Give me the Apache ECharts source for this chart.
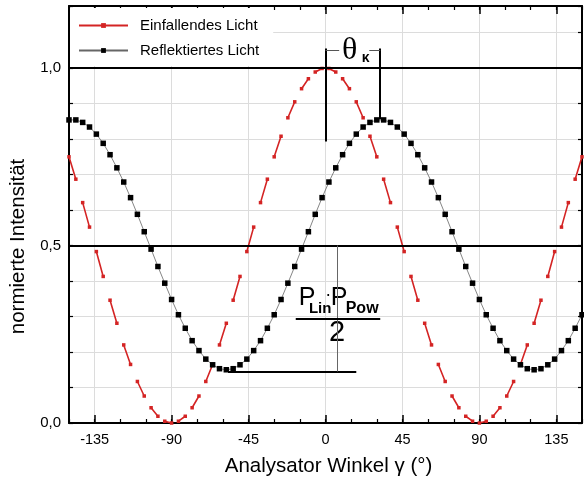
<!DOCTYPE html>
<html>
<head>
<meta charset="utf-8">
<script src="https://cdn.jsdelivr.net/npm/echarts@6/dist/echarts.min.js"></script>
<style>
  html, body { margin: 0; padding: 0; background: #fff; }
  #chart { width: 584px; height: 479px; }
</style>
</head>
<body>
<div id="chart"></div>
<script>
// Analysator angle (deg), one sample every 4 degrees
const angles = [-150,-146,-142,-138,-134,-130,-126,-122,-118,-114,-110,-106,-102,-98,-94,-90,-86,-82,-78,-74,
  -70,-66,-62,-58,-54,-50,-46,-42,-38,-34,-30,-26,-22,-18,-14,-10,-6,-2,
  2,6,10,14,18,22,26,30,34,38,42,46,50,54,58,62,66,70,74,78,82,86,90,94,98,102,106,110,114,118,122,126,130,134,138,142,146,150];

// Einfallendes Licht (normalised)
const incident = [0.75,0.687,0.621,0.552,0.483,0.413,0.346,0.281,0.220,0.165,0.117,0.076,0.043,0.019,0.005,
  0,
  0.005,0.019,0.043,0.076,0.117,0.165,0.220,0.281,0.346,0.413,0.483,0.552,0.621,0.687,0.75,0.808,0.860,0.905,0.942,0.970,0.989,0.999,
  0.999,0.989,0.970,0.942,0.905,0.860,0.808,0.75,0.687,0.621,0.552,0.483,0.413,0.346,0.281,0.220,0.165,0.117,0.076,0.043,0.019,0.005,
  0,
  0.005,0.019,0.043,0.076,0.117,0.165,0.220,0.281,0.346,0.413,0.483,0.552,0.621,0.687,0.75];

// Reflektiertes Licht (normalised)
const reflected = [0.854,0.854,0.847,0.834,0.814,0.788,0.756,0.719,0.679,0.635,0.588,0.539,0.490,0.441,0.394,0.348,0.305,0.267,0.232,0.204,
  0.180,0.164,0.153,0.150,0.153,0.164,0.180,0.204,0.232,0.267,0.305,0.348,0.394,0.441,0.490,0.539,0.588,0.635,
  0.679,0.719,0.756,0.788,0.814,0.834,0.847,0.854,0.854,0.847,0.834,0.814,0.788,0.756,0.719,0.679,0.635,0.588,0.539,0.490,
  0.441,0.394,0.348,0.305,0.267,0.232,0.204,0.180,0.164,0.153,0.150,0.153,0.164,0.180,0.204,0.232,0.267,0.305];

const xMajor = [-135, -90, -45, 0, 45, 90, 135];
const yMajor = [0, 0.5, 1];

// annotation guide lines in data space
const thetaK = 32;       // peak shift of reflected light
const topBracket = 1.055;
const minLevel = 0.145;
const fracX = 6.8;

const font = "'Liberation Sans', Arial, sans-serif";
const red = '#d42424';

// incident light is drawn as pairs of connected points
const incidentData = [];
angles.forEach((a, i) => {
  incidentData.push([a, incident[i]]);
  if (i % 2 === 1) incidentData.push([a, null]);
});
const reflectedData = angles.map((a, i) => [a, reflected[i]]);

const chart = echarts.init(document.getElementById('chart'), null, { renderer: 'canvas' });

function xAx(pos, major, extra) {
  return Object.assign({
    type: 'value', position: pos, min: -150, max: 150,
    interval: 15,
    axisLine: { show: !major, onZero: false, lineStyle: { color: '#000', width: 2 } },
    axisTick: major
      ? { show: true, inside: true, length: 8, customValues: xMajor, lineStyle: { color: '#000', width: 1.5 } }
      : { show: true, inside: true, length: 4, lineStyle: { color: '#000', width: 1.2 } },
    axisLabel: { show: false },
    splitLine: { show: false }
  }, extra || {});
}
function yAx(pos, major, extra) {
  return Object.assign({
    type: 'value', position: pos, min: 0, max: 1.175,
    interval: major ? 0.5 : 0.1,
    axisLine: { show: !major, onZero: false, lineStyle: { color: '#000', width: 2 } },
    axisTick: { show: true, inside: true, length: major ? 8 : 4, lineStyle: { color: '#000', width: major ? 1.5 : 1.2 } },
    axisLabel: { show: false },
    splitLine: { show: false }
  }, extra || {});
}

const option = {
  animation: false,
  backgroundColor: '#fff',
  grid: { left: 69, right: 2, top: 6, bottom: 56, outerBoundsMode: 'none', containLabel: false },
  legend: {
    left: 70, top: 8,
    orient: 'vertical',
    backgroundColor: '#fff',
    padding: [10, 14, 8, 8],
    itemWidth: 49, itemHeight: 6, itemGap: 10,
    textStyle: { fontFamily: font, fontSize: 15, color: '#000', padding: [0, 0, 0, 7] },
    data: ['Einfallendes Licht', 'Reflektiertes Licht']
  },
  xAxis: [
    xAx('bottom', false),
    xAx('bottom', true, {
      name: 'Analysator Winkel γ (°)', nameLocation: 'middle', nameGap: 33,
      nameTextStyle: { fontFamily: font, fontSize: 20.5, color: '#000', padding: [0, 0, 0, 6] },
      axisLabel: { show: true, customValues: xMajor, margin: 9, fontFamily: font, fontSize: 14.5, color: '#000' },
      splitLine: { show: true, lineStyle: { color: '#dcdcdc', width: 1 } }
    }),
    xAx('top', false),
    xAx('top', true)
  ],
  yAxis: [
    yAx('left', false, {
      name: 'normierte Intensität', nameLocation: 'middle', nameGap: 39,
      nameTextStyle: { fontFamily: font, fontSize: 20.5, color: '#000', padding: [0, 64, 0, 0] },
      axisLabel: {
        show: true, margin: 8, fontFamily: font, fontSize: 15, color: '#000',
        formatter: v => yMajor.some(m => Math.abs(m - v) < 1e-6) ? v.toFixed(1).replace('.', ',') : ''
      },
      splitLine: { show: true, lineStyle: { color: '#dcdcdc', width: 1 } }
    }),
    yAx('left', true),
    yAx('right', false),
    yAx('right', true)
  ],
  series: [
    {
      name: 'Einfallendes Licht', type: 'line',
      xAxisIndex: 0, yAxisIndex: 0,
      data: incidentData, connectNulls: false,
      symbol: 'rect', symbolSize: 3.5, showSymbol: true,
      itemStyle: { color: red },
      lineStyle: { color: red, width: 1.6 },
      z: 3
    },
    {
      name: 'Reflektiertes Licht', type: 'line',
      xAxisIndex: 0, yAxisIndex: 0,
      data: reflectedData,
      symbol: 'rect', symbolSize: 5.5, showSymbol: true,
      itemStyle: { color: '#000' },
      lineStyle: { color: '#666', width: 0.8 },
      z: 4,
      markLine: {
        silent: true, symbol: 'none', label: { show: false },
        lineStyle: { color: '#000', width: 2, type: 'solid' },
        data: [
          { yAxis: 1 },
          { yAxis: 0.5 },
          [{ coord: [0, topBracket] }, { coord: [0, 0.793] }],
          [{ coord: [thetaK, topBracket] }, { coord: [thetaK, 0.856] }],
          [{ coord: [0, 1.051], lineStyle: { color: '#555', width: 1 } }, { coord: [8, 1.051] }],
          [{ coord: [25.6, 1.051], lineStyle: { color: '#555', width: 1 } }, { coord: [thetaK, 1.051] }],
          [{ coord: [-57, minLevel] }, { coord: [18, minLevel] }],
          [{ coord: [fracX, 0.5], lineStyle: { color: '#666', width: 1 } }, { coord: [fracX, minLevel] }],
          [{ coord: [-17.4, 0.2935] }, { coord: [thetaK, 0.2935] }]
        ]
      }
    }
  ]
};

chart.setOption(option);

// text annotations placed from data coordinates
const pK = chart.convertToPixel({ xAxisIndex: 0, yAxisIndex: 0 }, [16.5, 1.051]);
const pF = chart.convertToPixel({ xAxisIndex: 0, yAxisIndex: 0 }, [fracX, 0.2935]);
const serif = "'Liberation Serif', 'DejaVu Serif', serif";
const txt = (x, y, text, f) => ({ type: 'text', x, y, style: { text, font: f, fill: '#000', textAlign: 'center', textVerticalAlign: 'middle' } });
chart.setOption({
  graphic: [
    txt(pK[0] - 4, pK[1] + 1, 'θ', '32px ' + serif),
    txt(pK[0] + 12, pK[1] + 8, 'κ', 'bold 14px ' + font),
    txt(pF[0] - 30, pF[1] - 21, 'P', '25px ' + font),
    txt(pF[0] - 17, pF[1] - 10, 'Lin', 'bold 15px ' + font),
    txt(pF[0] - 9, pF[1] - 24, '·', '18px ' + font),
    txt(pF[0] + 2, pF[1] - 21, 'P', '25px ' + font),
    txt(pF[0] + 25, pF[1] - 10, 'Pow', 'bold 16px ' + font),
    txt(pF[0], pF[1] + 14, '2', '29px ' + font)
  ]
});
</script>
</body>
</html>
